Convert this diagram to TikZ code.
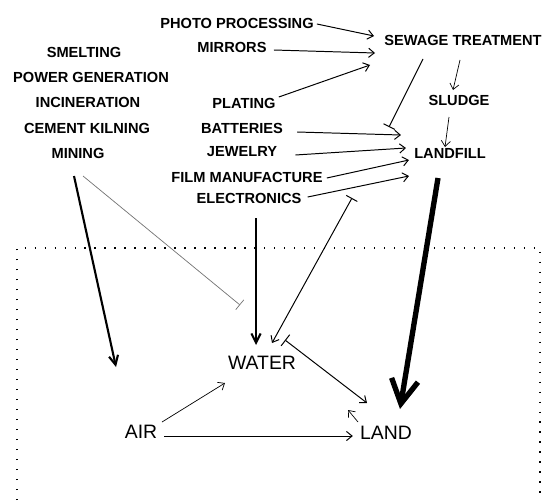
\documentclass[tikz,border=0pt]{standalone}
\usepackage{fontspec}
\setsansfont{Liberation Sans}
\usetikzlibrary
  {
    arrows.meta,              % barb and bar tips
    calc,                     % shifted anchors
  }

\begin{document}
\begin{tikzpicture}
    [
      x=0.025cm, y=-0.025cm,
      source/.style=
        {
          font=\sffamily\bfseries\fontsize{10.4}{12}\selectfont,
          inner sep=0pt,
        },
      compartment/.style=
        {
          font=\sffamily\fontsize{13.8}{16}\selectfont,
          inner sep=0pt,
        },
      flow/.style=
        {
          -{Straight Barb[length=4pt,width=6.5pt]},
          line width=0.7pt,
        },
      strong flow/.style=
        {
          -{Straight Barb[length=6.5pt,width=6.5pt]},
          line width=1.5pt,
        },
      heavy flow/.style=
        {
          -{Straight Barb[length=17pt,width=19pt]},
          line width=3.8pt,
        },
      inhibit/.style=
        {
          -{Bar[width=9pt]},
          line width=0.7pt,
        },
      barred flow/.style=
        {
          {Bar[width=9pt]}-{Straight Barb[length=4pt,width=6.5pt]},
          line width=0.7pt,
        },
      frame/.style=
        {
          line width=0.9pt,
          dash pattern=on 0.9pt off 6.2pt,
        },
    ]
    \useasboundingbox (0,0) rectangle (543,500);

    % industrial sources
    \node[source] (photo processing)  at (237, 23) {PHOTO PROCESSING};
    \node[source] (mirrors)           at (232, 47) {MIRRORS};
    \node[source] (smelting)          at ( 84, 52) {SMELTING};
    \node[source] (power generation)  at ( 91, 77) {POWER GENERATION};
    \node[source] (incineration)      at ( 88,102) {INCINERATION};
    \node[source] (cement kilning)    at ( 87,128) {CEMENT KILNING};
    \node[source] (mining)            at ( 78,153) {MINING};
    \node[source] (plating)           at (244,103) {PLATING};
    \node[source] (batteries)         at (242,128) {BATTERIES};
    \node[source] (jewelry)           at (242,152) {JEWELRY};
    \node[source] (film manufacture)  at (247,177) {FILM MANUFACTURE};
    \node[source] (electronics)       at (249,198) {ELECTRONICS};

    % waste handling
    \node[source,anchor=west] (sewage treatment) at (384, 40) {SEWAGE TREATMENT};
    \node[source] (sludge)            at (459,100) {SLUDGE};
    \node[source] (landfill)          at (450,153) {LANDFILL};

    % environment
    \draw[frame] (17,500) |- (540,248) -- (540,500);
    \node[compartment] (water)        at (262,363) {WATER};
    \node[compartment] (air)          at (141,432) {AIR};
    \node[compartment] (land)         at (386,433) {LAND};

    \draw[flow] ($(photo processing.east)+(3,1)$) -- ($(sewage treatment.west)+(-10,-4)$);
    \draw[flow] ($(mirrors.east)+(7,3)$) -- ($(sewage treatment.west)+(-9,13)$);
    \draw[flow] ($(plating.east)+(3,-6)$) -- ($(sewage treatment.west)+(-14,25)$);
    \draw[inhibit] ($(sewage treatment.west)+(39,19)$) -- ($(landfill.west)+(-25,-26)$);
    \draw[flow,line width=0.5pt] ($(sludge)+(1,-40)$) -- ($(sludge)+(-6,-10)$);
    \draw[flow,line width=0.5pt] ($(sludge)+(-10,17)$) -- ($(landfill)+(-5,-6)$);

    \draw[flow] ($(batteries.east)+(14,4)$) -- ($(landfill.west)+(-13,-18)$);
    \draw[flow] ($(jewelry.east)+(18,3)$) -- ($(landfill.west)+(-8,-5)$);
    \draw[flow] ($(film manufacture.east)+(4,1)$) -- ($(landfill.west)+(-5,7)$);
    \draw[flow] ($(electronics.east)+(6,-1)$) -- ($(landfill.west)+(-5,23)$);
    \draw[heavy flow] ($(landfill)+(-12,25)$) -- ($(land)+(14,-24)$);

    \draw[strong flow] ($(mining)+(-4,23)$) -- ($(air)+(-25,-65)$);
    \draw[inhibit,draw=black!55,line width=0.5pt] ($(mining)+(5,23)$) -- ($(water)+(-22,-58)$);
    \draw[strong flow] ($(water)+(-6,-145)$) -- ($(water)+(-6,-18)$);
    \draw[barred flow] ($(landfill)+(-98,45)$) -- ($(water)+(10,-20)$);
    \draw[barred flow,{Bar[width=10pt]}-{Straight Barb[length=4pt,width=6.5pt]}]
      ($(water)+(23,-23)$) -- ($(land)+(-19,-30)$);
    \draw[flow,line width=0.5pt] ($(land)+(-28,-11)$) -- ($(land)+(-38,-23)$);
    \draw[flow,line width=0.5pt] ($(air)+(21,-10)$) -- ($(water)+(-37,20)$);
    \draw[flow] ($(air.east)+(7,4)$) -- ($(land.west)+(-7,3)$);
  \end{tikzpicture}
\end{document}
